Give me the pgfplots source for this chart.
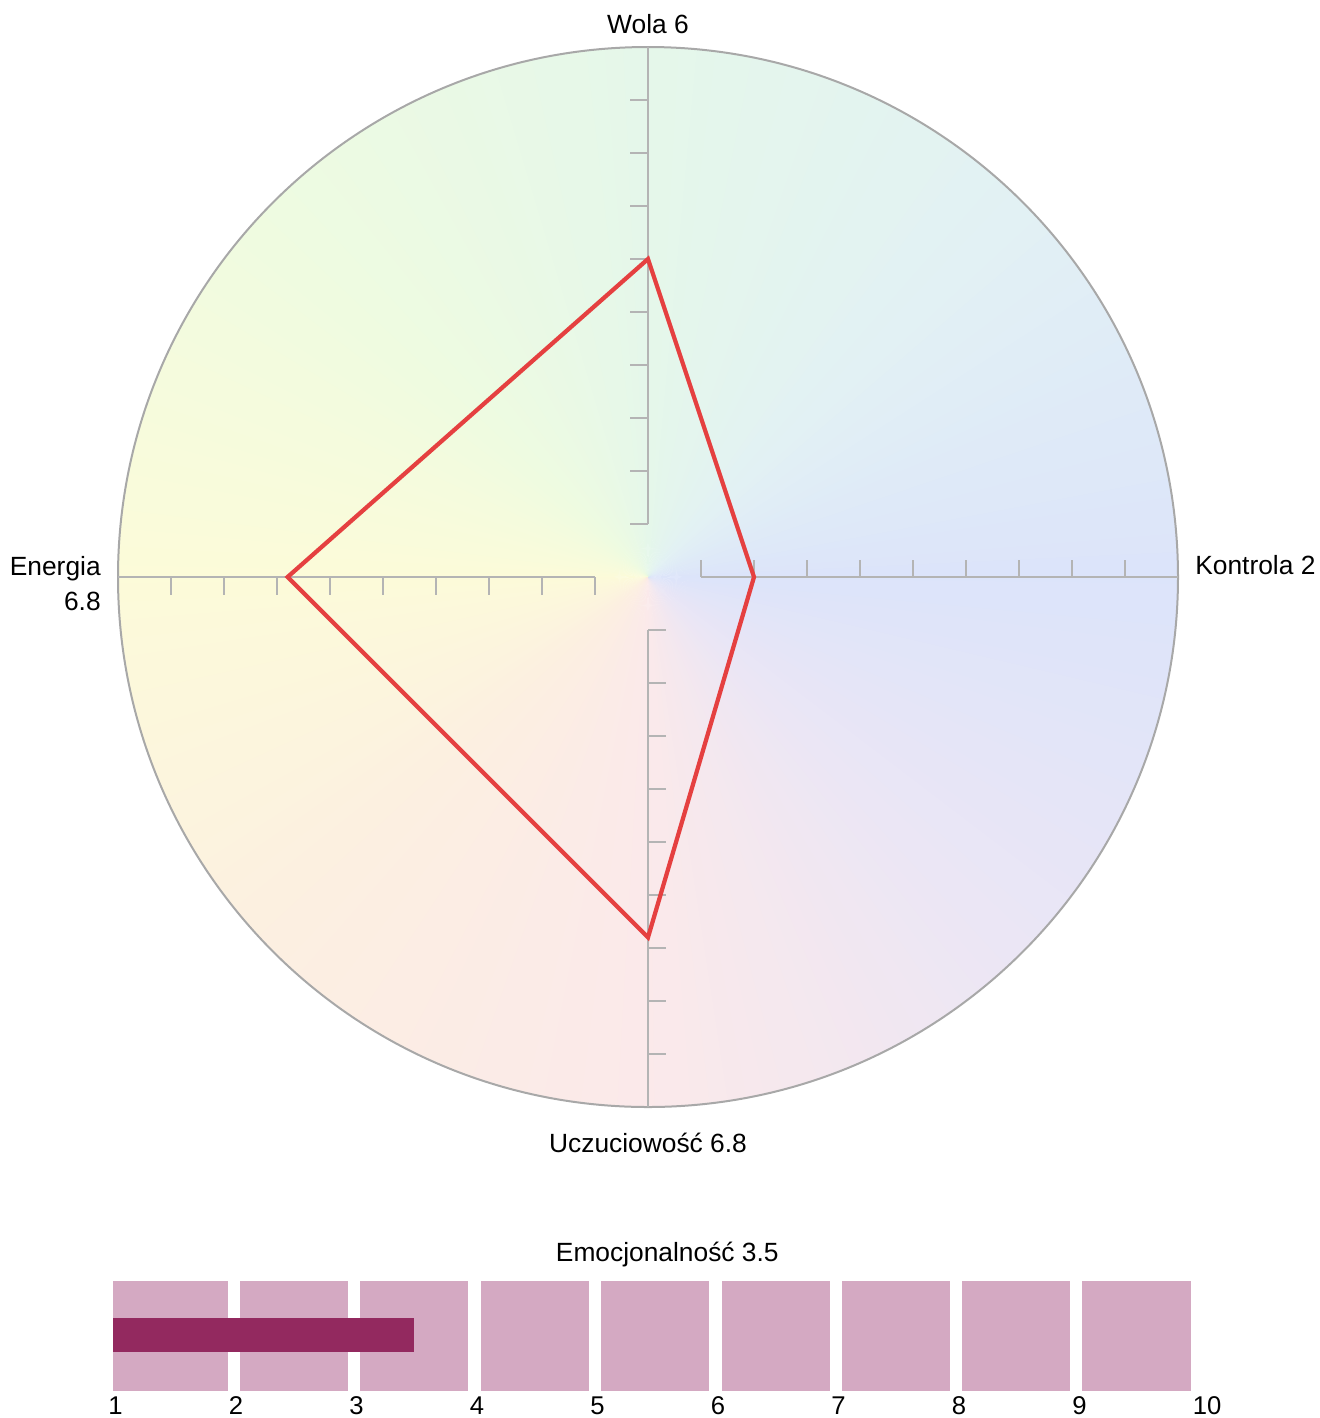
\documentclass[border=0pt]{standalone}
\usepackage{fontspec}
\setmainfont{Liberation Sans}
\usepackage{pgfplots}
\pgfplotsset{compat=1.18}
\definecolor{g0}{HTML}{DCE4FA}
\definecolor{g1}{HTML}{E2F1F4}
\definecolor{g2}{HTML}{E5F7EA}
\definecolor{g3}{HTML}{EEFBE1}
\definecolor{g4}{HTML}{FCFBD9}
\definecolor{g5}{HTML}{FCEFE1}
\definecolor{g6}{HTML}{FBE9EA}
\definecolor{g7}{HTML}{EBE6F5}
\definecolor{g8}{HTML}{DCE4FA}
\definecolor{spokegray}{HTML}{B4B4B4}
\definecolor{circgray}{HTML}{A8A8A8}
\definecolor{linered}{RGB}{229,64,64}
\definecolor{segpink}{RGB}{212,169,194}
\definecolor{barplum}{RGB}{147,41,95}
\begin{document}
\begin{tikzpicture}
\useasboundingbox (0,0) rectangle (26.4,-28.36);
% pale conic background
\foreach \i in {0,...,179}{
  \pgfmathsetmacro\a{2*\i}
  \pgfmathtruncatemacro\s{floor(\a/45)}
  \pgfmathtruncatemacro\n{\s+1}
  \pgfmathsetmacro\p{100-100*(\a-45*\s)/45}
  \colorlet{tmp}{g\s!\p!g\n}
  \fill[tmp, shift={(12.96,-11.54)}] (0,0) -- (\a-1.3:10.6) -- (\a+1.3:10.6) -- cycle;
}
\draw[circgray, line width=0.4mm] (12.96,-11.54) circle (10.6);

\begin{axis}[
  at={(12.96cm,-11.54cm)}, anchor=center,
  x=1.06cm, y=1.06cm,
  xmin=-10.6, xmax=10.6, ymin=-10.6, ymax=10.6,
  hide axis, clip=false,
]
\draw[spokegray, line width=0.4mm] (axis cs:0,1) -- (axis cs:0,10);
\draw[spokegray, line width=0.4mm] (axis cs:1,0) -- (axis cs:10,0);
\draw[spokegray, line width=0.4mm] (axis cs:0,-1) -- (axis cs:0,-10);
\draw[spokegray, line width=0.4mm] (axis cs:-1,0) -- (axis cs:-10,0);
\pgfplotsinvokeforeach{1,...,9}{
  \draw[spokegray, line width=0.4mm] (axis cs:0,#1) -- (axis cs:-0.34,#1);
  \draw[spokegray, line width=0.4mm] (axis cs:#1,0) -- (axis cs:#1,0.32);
  \draw[spokegray, line width=0.4mm] (axis cs:0,-#1) -- (axis cs:0.34,-#1);
  \draw[spokegray, line width=0.4mm] (axis cs:-#1,0) -- (axis cs:-#1,-0.34);
}
\addplot[linered, line width=0.85mm, line join=miter, mark=none]
  coordinates {(0,6) (2,0) (0,-6.8) (-6.8,0)} -- cycle;
\node[anchor=base, inner sep=0pt, font=\fontsize{15}{18}\selectfont] at (axis cs:0,10.26) {Wola 6};
\node[anchor=base west, inner sep=0pt, font=\fontsize{15}{18}\selectfont] at (axis cs:10.32,0.04) {Kontrola 2};
\node[anchor=base east, inner sep=0pt, font=\fontsize{15}{18}\selectfont] at (axis cs:-10.32,0.02) {Energia};
\node[anchor=base east, inner sep=0pt, font=\fontsize{15}{18}\selectfont] at (axis cs:-10.32,-0.64) {6.8};
\node[anchor=base, inner sep=0pt, font=\fontsize{15}{18}\selectfont] at (axis cs:0,-10.85) {Uczuciowość 6.8};
\end{axis}

\begin{axis}[
  at={(2.26cm,-27.82cm)}, anchor=south west,
  x=2.41cm, y=0.02cm,
  xmin=1, xmax=10, ymin=0, ymax=110,
  clip=false,
  axis line style={draw=none},
  ytick=\empty,
  xtick={1,2,3,4,5,6,7,8,9,10},
  xticklabels={1,2,3,4,5,6,7,8,9,10},
  major tick length=0pt,
  xticklabel style={anchor=base west, inner sep=0pt, xshift=-0.1cm, yshift=-0.47cm, font=\fontsize{14.6}{17}\selectfont},
]
\addplot[fill=segpink, draw=none] coordinates {(1,0) (1.955,0) (1.955,110) (1,110)} -- cycle;
\addplot[fill=segpink, draw=none] coordinates {(2.055,0) (2.95,0) (2.95,110) (2.055,110)} -- cycle;
\addplot[fill=segpink, draw=none] coordinates {(3.05,0) (3.95,0) (3.95,110) (3.05,110)} -- cycle;
\addplot[fill=segpink, draw=none] coordinates {(4.05,0) (4.95,0) (4.95,110) (4.05,110)} -- cycle;
\addplot[fill=segpink, draw=none] coordinates {(5.05,0) (5.95,0) (5.95,110) (5.05,110)} -- cycle;
\addplot[fill=segpink, draw=none] coordinates {(6.05,0) (6.95,0) (6.95,110) (6.05,110)} -- cycle;
\addplot[fill=segpink, draw=none] coordinates {(7.05,0) (7.95,0) (7.95,110) (7.05,110)} -- cycle;
\addplot[fill=segpink, draw=none] coordinates {(8.045,0) (8.945,0) (8.945,110) (8.045,110)} -- cycle;
\addplot[fill=segpink, draw=none] coordinates {(9.04,0) (9.95,0) (9.95,110) (9.04,110)} -- cycle;
\addplot[fill=barplum, draw=none] coordinates {(1,39) (3.5,39) (3.5,73) (1,73)} -- cycle;
\node[anchor=base, inner sep=0pt, font=\fontsize{15}{18}\selectfont] at (axis cs:5.6,129) {Emocjonalność 3.5};
\end{axis}
\end{tikzpicture}
\end{document}
